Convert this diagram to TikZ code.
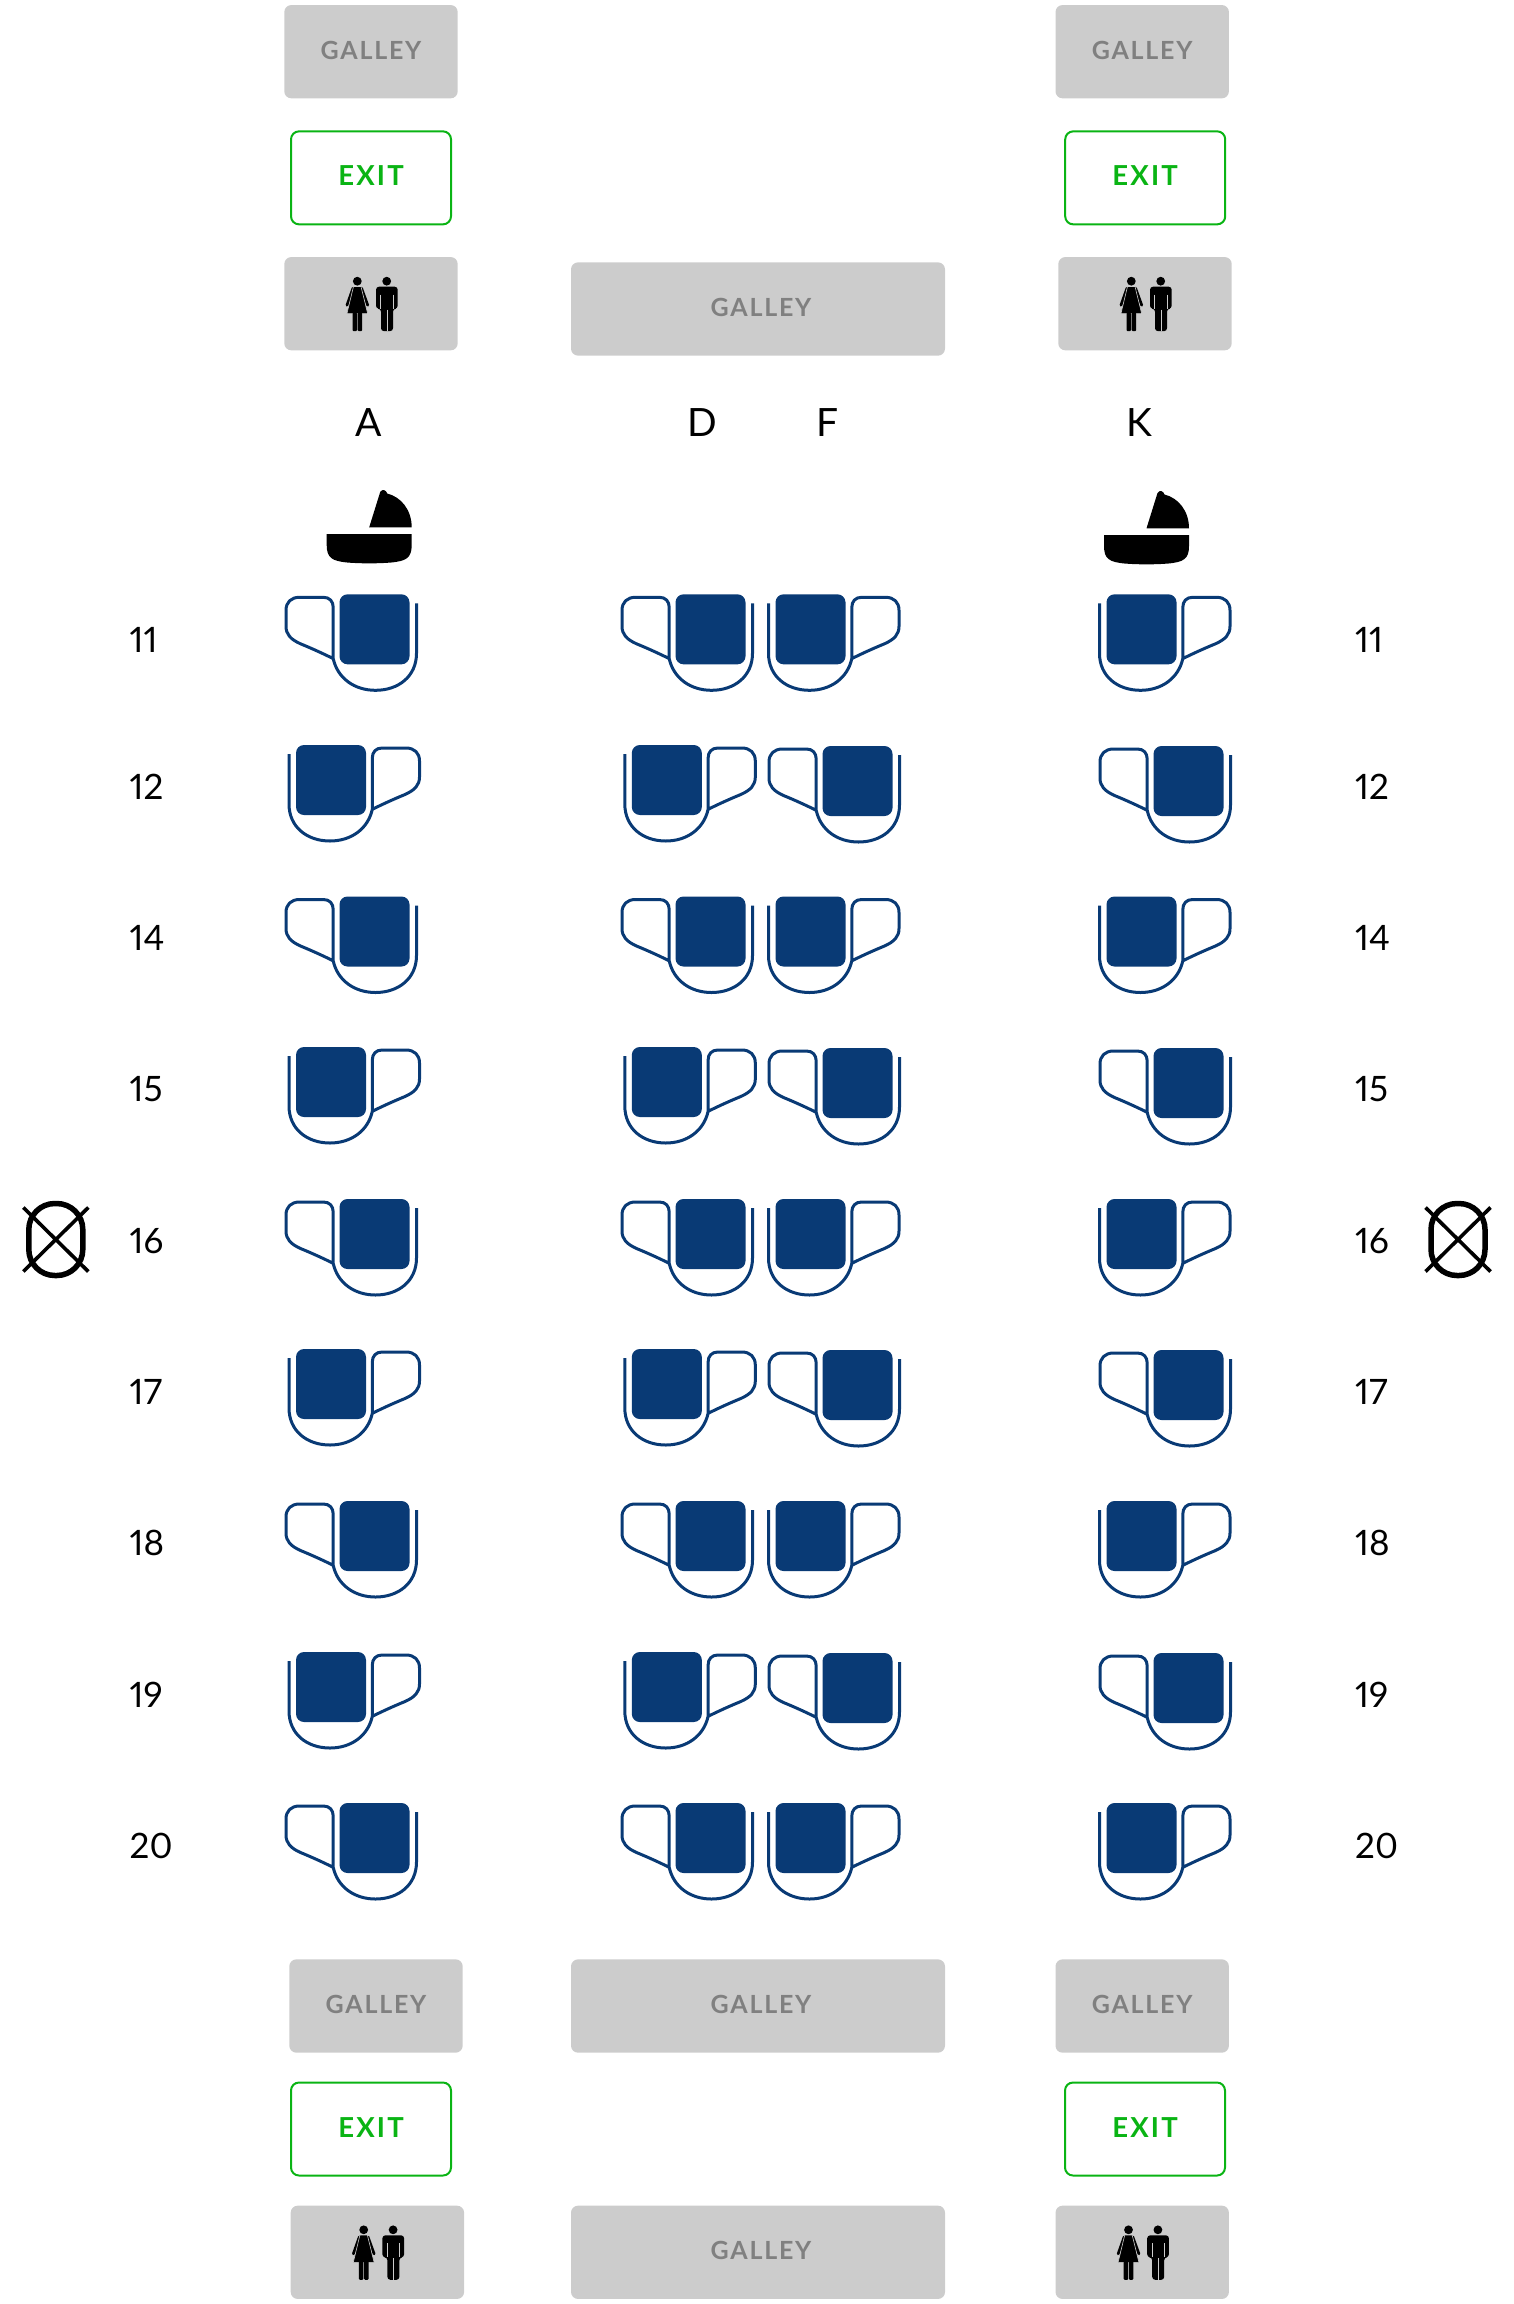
\documentclass[tikz,border=0pt]{standalone}
\usepackage{fontspec}
\setmainfont[Numbers=Proportional]{Lato}
\usetikzlibrary{positioning}
\definecolor{SeatBlue}{RGB}{9, 58, 117}
\definecolor{BoxGray}{RGB}{204, 204, 204}
\definecolor{LabelGray}{RGB}{128, 128, 128}
\definecolor{ExitGreen}{RGB}{10, 180, 20}
\tikzset{
  galleybox/.style={rectangle, rounded corners=7pt, fill=BoxGray, inner sep=0pt, outer sep=0pt,
                    minimum width=#1, minimum height=93.3pt,
                    font=\fontsize{25}{27}\selectfont\bfseries\addfontfeature{LetterSpace=7}, text=LabelGray,
                    text height=17.7pt, text depth=2.8pt},
  galleybox/.default=173.4pt,
  exitbox/.style={rectangle, rounded corners=8pt, draw=ExitGreen, line width=2pt, fill=white,
                  inner sep=0pt, outer sep=0pt, minimum width=160pt, minimum height=93pt,
                  font=\fontsize{27.5}{29}\selectfont\bfseries\addfontfeature{LetterSpace=8}, text=ExitGreen,
                  text height=19.7pt, text depth=3.5pt},
  rowlabel/.style={inner sep=0pt, anchor=west, font=\fontsize{35}{38}\selectfont,
                   text height=25.6pt, text depth=0pt},
  collabel/.style={inner sep=0pt, font=\fontsize{39}{42}\selectfont,
                   text height=28pt, text depth=0pt},
  seatline/.style={draw=SeatBlue, line width=3pt, line join=round},
  seat/.pic={
    \fill[SeatBlue, rounded corners=8pt] (-35,-35) rectangle (35,35);
    \draw[seatline] (42,-26) -- (42,24) .. controls (42,47) and (24,61) .. (1,61)
      .. controls (-20,61) and (-37,49) .. (-41.3,29.3) -- (-41.3,-22)
      .. controls (-41.3,-28) and (-45,-32) .. (-51,-32) -- (-75,-32)
      .. controls (-83.5,-32) and (-88.5,-27) .. (-88.5,-19) -- (-88.5,-3)
      .. controls (-88.5,5) and (-84,10) .. (-74,14.5)
      .. controls (-63,19) and (-52,24) .. (-41.3,29.3);
  },
  bassinet/.pic={
    \fill[black] (-42.5,0) -- (42.5,0) -- (42.5,11) .. controls (42.5,24) and (37,27) .. (22,28.5)
      .. controls (10,29.6) and (-10,29.6) .. (-22,28.5) .. controls (-37,27) and (-42.5,24) .. (-42.5,11) -- cycle;
    \fill[black] (0,-6.7) -- (42.5,-6.7) .. controls (42.5,-24) and (32,-37) .. (18,-40.5)
      .. controls (17,-44) and (13,-45.5) .. (11,-42) -- cycle;
  },
  couple/.pic={
    % woman
    \fill[black] (-14.7,-22.5) circle (4.4);
    \draw[black, line width=2.8pt, line cap=round] (-19,-15.5) -- (-25,1.5) (-10.5,-15.5) -- (-4.3,1.5);
    \fill[black, draw=BoxGray, line width=0.6pt] (-18.5,-17.2) -- (-11,-17.2) -- (-4.3,10) -- (-25.1,10) -- cycle;
    \fill[black, rounded corners=1pt] (-19.5,9) rectangle (-15,27.5);
    \fill[black, rounded corners=1pt] (-14.3,9) rectangle (-9.8,27.5);
    % man
    \fill[black] (14.7,-22.5) circle (4.4);
    \fill[black, rounded corners=3pt] (4,-17) -- (25.7,-17) -- (25.7,5) -- (21,5) -- (21,27.5) -- (9,27.5) -- (9,5) -- (4,5) -- cycle;
    \draw[BoxGray, line width=0.7pt] (8.8,-9) -- (8.8,5) (21,-9) -- (21,5) (14.9,6) -- (14.9,27.5);
  },
  doorx/.pic={
    \draw[black, line width=5.5pt, rounded corners=26pt] (-27,-36) rectangle (27,36);
    \draw[black, line width=3.6pt] (-32.5,-32) -- (32.5,32) (32.5,-32) -- (-32.5,32);
  },
}
\begin{document}
\begin{tikzpicture}[x=1pt, y=-1pt]
  \useasboundingbox (0,0) rectangle (1513,2304);

  % front of the cabin
  \node[galleybox] (galleyTL) at (371,51.7) {GALLEY};
  \node[exitbox, below=33pt of galleyTL] (exitTL) {EXIT};
  \node[galleybox, below=32.7pt of exitTL] (wcTL) {};
  \node[galleybox] (galleyTR) at (1142.2,51.7) {GALLEY};
  \node[exitbox, below=33pt of galleyTR, xshift=3pt] (exitTR) {EXIT};
  \node[galleybox, below=32.7pt of exitTR, xshift=-0.2pt] (wcTR) {};
  \node[galleybox=374pt] (galleyTC) at (758,309) {\hspace*{6pt}GALLEY};
  \pic at ([xshift=1pt]wcTL.center) {couple};
  \pic at ([xshift=1pt]wcTR.center) {couple};

  % column letters
  \node[collabel] (colA) at (369,422) {A};
  \node[collabel] (colD) at (702,422) {D};
  \node[collabel] (colF) at (827.5,422) {F};
  \node[collabel] (colK) at (1139.5,422) {K};

  \pic at (369.2,534) {bassinet};
  \pic at (1146.5,535) {bassinet};

  % seats
  \foreach \y in {629.3,931.5,1234,1536,1838} {
    \pic at (374.5,\y) {seat};
    \pic at (710.5,\y) {seat};
    \pic[xscale=-1] at (810.5,\y) {seat};
    \pic[xscale=-1] at (1141.5,\y) {seat};
  }
  \foreach \y in {780,1082,1384,1687} {
    \pic[xscale=-1] at (331,\y) {seat};
    \pic[xscale=-1] at (666.8,\y) {seat};
    \pic at (857.5,\y+1) {seat};
    \pic at (1188.5,\y+1) {seat};
  }

  % row numbers
  \foreach \rownum/\y in {11/640,12/787,14/938,15/1089,16/1241,17/1392,18/1543,19/1695,20/1846} {
    \node[rowlabel] (rowL\rownum) at (129.5,\y) {\rownum};
    \node[rowlabel] (rowR\rownum) at (1355,\y) {\rownum};
  }

  \pic at (55.8,1239.5) {doorx};
  \pic at (1458,1239.5) {doorx};

  % rear of the cabin
  \node[galleybox] (galleyBL) at (376,2006) {GALLEY};
  \node[galleybox=374pt] (galleyBC) at (758,2006) {\hspace*{6pt}GALLEY};
  \node[galleybox] (galleyBR) at (1142.2,2006) {GALLEY};
  \node[exitbox] (exitBL) at (371,2129) {EXIT};
  \node[exitbox] (exitBR) at (1145,2129) {EXIT};
  \node[galleybox] (wcBL) at (377.4,2252.3) {};
  \node[galleybox=374pt] (galleyBB) at (758,2252.3) {\hspace*{6pt}GALLEY};
  \node[galleybox] (wcBR) at (1142.2,2252.3) {};
  \pic at ([xshift=1pt]wcBL.center) {couple};
  \pic at ([xshift=1pt]wcBR.center) {couple};
\end{tikzpicture}
\end{document}
